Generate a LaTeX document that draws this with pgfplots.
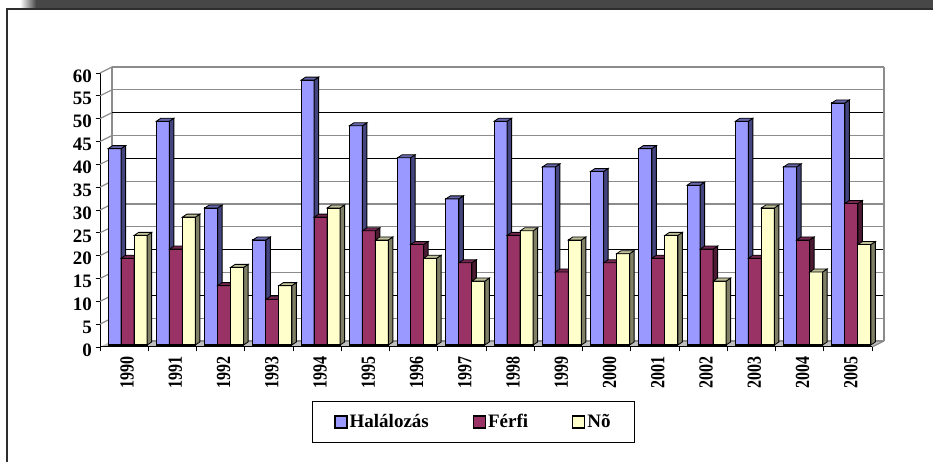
\documentclass[border=0pt]{standalone}
\usepackage{pgfplots}
\pgfplotsset{compat=1.18}
\usepackage{fontspec}
\setmainfont{Liberation Serif}
\pgfdeclareplotmark{nil}{}
\definecolor{bf}{HTML}{9999FF}\definecolor{bs}{HTML}{44447F}\definecolor{bt}{HTML}{6666AA}
\definecolor{rf}{HTML}{993366}\definecolor{rs}{HTML}{4D1A33}\definecolor{rt}{HTML}{732650}
\definecolor{yf}{HTML}{FFFFCC}\definecolor{ys}{HTML}{808066}\definecolor{yt}{HTML}{BFBF99}
\definecolor{wallgray}{HTML}{8C8C8C}
\pgfplotstableread{
x h f n
0 43 19 24
1 49 21 28
2 30 13 17
3 23 10 13
4 58 28 30
5 48 25 23
6 41 22 19
7 32 18 14
8 49 24 25
9 39 16 23
10 38 18 20
11 43 19 24
12 35 21 14
13 49 19 30
14 39 23 16
15 53 31 22
}\data
\def\unit{4.5667}
\newcommand\leg[1]{\fontsize{19}{19}\selectfont\bfseries #1}
\pgfplotsset{
  common/.style={scale only axis,width=772pt,height=274pt,xmin=-0.5,xmax=15.5,ymin=0,ymax=60},
  barax/.style={common,at={(103.5pt,117pt)},anchor=south west,hide axis,clip=false},
  depth/.style n args={3}{scatter,only marks,mark=nil,forget plot,
    visualization depends on={y \as \yval},
    xshift=#1pt,
    scatter/@pre marker code/.code={%
      \pgfmathsetlengthmacro{\hh}{\yval*\unit}%
      \filldraw[draw=black,line width=.8pt,fill=#2] (6.5pt,0pt)--(11pt,3pt)--(11pt,-\hh+3pt)--(6.5pt,-\hh)--cycle;
      \filldraw[draw=black,line width=.8pt,fill=#3] (-6.5pt,0pt)--(-2pt,3pt)--(11pt,3pt)--(6.5pt,0pt)--cycle;
    },
    scatter/@post marker code/.code={}},
  front/.style={ybar,bar width=13pt,bar shift=#1pt,draw=black,line width=1.1pt},
  swatch/.style={legend image code/.code={\draw[##1,draw=black,line width=1.2pt] (0pt,-6pt) rectangle (12pt,6pt);}},
}
\begin{document}
\begin{tikzpicture}[x=1pt,y=1pt]
\path[use as bounding box] (0,0) rectangle (933,462);
% window frame
\shade[left color=white,right color=black!72] (20,454) rectangle (36,462);
\fill[black!72] (36,454) rectangle (933,462);
\draw[black!82,line width=2pt] (7,0)--(7,453)--(933,453);
% floor
\fill[black!25] (100,115)--(112,121)--(884,121)--(872,115)--cycle;
% back wall
\begin{axis}[common,at={(112pt,121pt)},anchor=south west,
  axis line style={wallgray,line width=1.3pt,-},axis x line=none,
  axis y line*=left,
  ytick={0,5,...,60},yticklabels={},y tick style={draw=none},
  ymajorgrids,grid style={wallgray,line width=1.3pt},
  extra y ticks={10,20,40,50},extra y tick labels={},
  extra y tick style={grid=major,major grid style={black,line width=.8pt},tick style={draw=none}}]
\addplot[draw=none] coordinates {(0,0)(15,60)};
\end{axis}
\draw[wallgray,line width=1.3pt] (884,121)--(884,395);
\draw[wallgray,line width=1.2pt] (872,115)--(884,121);
% axis with ticks
\begin{axis}[common,at={(100pt,115pt)},anchor=south west,
  axis lines=left,axis line style={black,line width=1pt,-},
  ytick={0,5,...,60},xtick={-0.5,0.5,...,15.5},xticklabels={},
  extra x ticks={0,1,...,15},
  extra x tick labels={1990,1991,1992,1993,1994,1995,1996,1997,1998,1999,2000,2001,2002,2003,2004,2005},
  extra x tick style={major tick length=0pt,tick label style={font=\fontsize{20}{20}\selectfont\bfseries,xshift=3pt,yshift=-7pt,rotate=90,xscale=.8,anchor=east}},
  tick align=outside,major tick length=4.5pt,tick style={black,line width=.9pt},
  y tick label style={font=\fontsize{19}{19}\selectfont\bfseries,yshift=-3pt},
  /pgf/number format/assume math mode=true,
  clip=false]
\addplot[draw=none] coordinates {(0,0)(15,60)};
\pgfplotsinvokeforeach{5,10,...,60}{\draw[wallgray,line width=1.2pt] (axis cs:-0.5,#1)--++(12pt,6pt);}
\end{axis}
% bars: one axis for each series, so that each stands in front of the one before
\begin{axis}[barax]
\addplot[depth={-13}{bs}{bt}] table[x=x,y=h] {\data};
\addplot[front=-13,fill=bf] table[x=x,y=h] {\data};
\end{axis}
\begin{axis}[barax]
\addplot[depth={0}{rs}{rt}] table[x=x,y=f] {\data};
\addplot[front=0,fill=rf] table[x=x,y=f] {\data};
\end{axis}
\begin{axis}[barax,
  legend style={at={(0.2701,-0.2045)},anchor=north west,draw=black,line width=.9pt,
    legend columns=3,inner xsep=22pt,inner ysep=13pt,nodes={inner xsep=2pt,inner ysep=0pt},
    /tikz/every even column/.append style={column sep=42pt}},
  legend cell align=left]
\addlegendimage{swatch,fill=bf}
\addlegendentry{\leg{Halálozás}}
\addlegendimage{swatch,fill=rf}
\addlegendentry{\leg{Férfi}}
\addplot[depth={13}{ys}{yt}] table[x=x,y=n] {\data};
\addplot[front=13,fill=yf,swatch] table[x=x,y=n] {\data};
\addlegendentry{\leg{Nõ}}
\end{axis}
\end{tikzpicture}
\end{document}
